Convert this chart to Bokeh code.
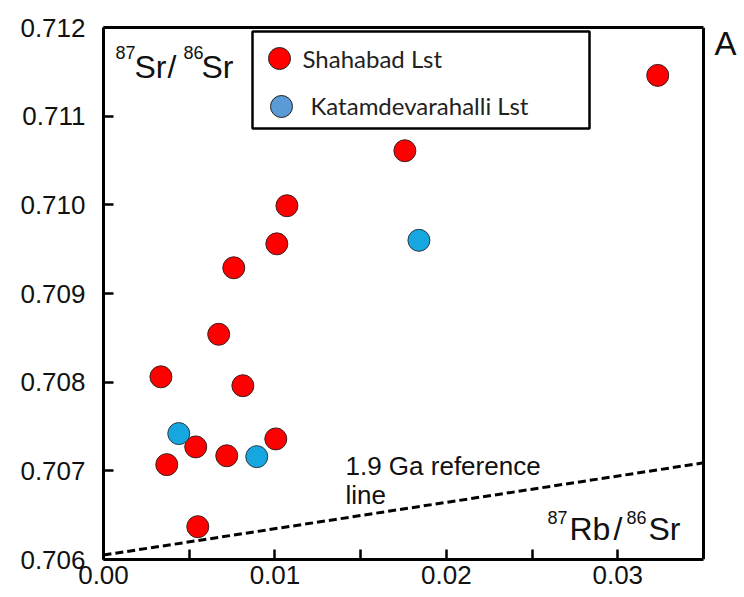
from bokeh.plotting import figure
from bokeh.models import (FixedTicker, PrintfTickFormatter, Label, BoxAnnotation,
                          Range1d, LinearAxis, Span)
from bokeh.embed import file_html
from bokeh.resources import INLINE

# 87Rb/86Sr and 87Sr/86Sr of the Shahabad limestone samples
shahabad_rbsr = [0.03233, 0.01758, 0.01070, 0.01011, 0.00760, 0.00672, 0.00335,
                 0.00813, 0.00538, 0.00369, 0.00719, 0.01005, 0.00550]
shahabad_srsr = [0.71146, 0.71061, 0.70999, 0.70956, 0.70929, 0.70854, 0.70806,
                 0.70796, 0.70727, 0.70707, 0.70717, 0.70736, 0.70637]

# Katamdevarahalli limestone samples
katam_rbsr = [0.01840, 0.00439, 0.00894]
katam_srsr = [0.70960, 0.70742, 0.70716]

# 1.9 Ga reference isochron (end points)
ref_rbsr = [0.0, 0.035]
ref_srsr = [0.70605, 0.70709]

x_ticks = [0.00, 0.01, 0.02, 0.03]
x_minor_ticks = [0.005, 0.015, 0.025]
y_ticks = [0.706, 0.707, 0.708, 0.709, 0.710, 0.711, 0.712]

X_RANGE = (0.0, 0.035)          # boxed plotting area
Y_RANGE = (0.706, 0.712)
BOX_W, BOX_H = 600, 532         # pixel size of the boxed area
MARGIN_R = 41                   # room to the right of the box for the panel letter

# the canvas frame runs past the box so the panel letter is not clipped
x_end = X_RANGE[0] + (X_RANGE[1] - X_RANGE[0]) * (BOX_W + MARGIN_R) / BOX_W

TICK_FONT = "Liberation Sans"
LEGEND_FONT = "Lato"
INK = "#111111"

p = figure(width=744, height=597, output_backend="svg", toolbar_location=None,
           x_range=Range1d(X_RANGE[0], x_end), y_range=Range1d(*Y_RANGE),
           min_border_left=103, min_border_right=0, min_border_top=27, min_border_bottom=38)

p.background_fill_color = "white"
p.border_fill_color = "white"
p.xgrid.visible = False
p.ygrid.visible = False
p.outline_line_color = None

for ax in (p.xaxis[0], p.yaxis[0]):
    ax.axis_line_width = 3
    ax.axis_line_color = "black"
    ax.major_tick_in = 10
    ax.major_tick_out = 0
    ax.major_tick_line_width = 2.5
    ax.minor_tick_in = 10
    ax.minor_tick_out = 0
    ax.minor_tick_line_width = 2.5
    ax.major_label_text_font = TICK_FONT
    ax.major_label_text_font_size = "26px"
    ax.major_label_text_color = INK

p.xaxis[0].bounds = X_RANGE
p.xaxis[0].ticker = FixedTicker(ticks=x_ticks, minor_ticks=x_minor_ticks)
p.xaxis[0].formatter = PrintfTickFormatter(format="%.2f")
p.xaxis[0].major_label_standoff = 6
p.yaxis[0].ticker = FixedTicker(ticks=y_ticks, minor_ticks=[])
p.yaxis[0].formatter = PrintfTickFormatter(format="%.3f")
p.yaxis[0].major_label_standoff = 18

# top and right edges of the box
top_edge = LinearAxis(bounds=X_RANGE, ticker=FixedTicker(ticks=[], minor_ticks=[]),
                      axis_line_width=3, axis_line_color="black",
                      major_tick_in=0, major_tick_out=0, minor_tick_in=0, minor_tick_out=0,
                      major_label_text_font_size="0px")
p.add_layout(top_edge, "above")
p.add_layout(Span(location=X_RANGE[1], dimension="height",
                  line_color="black", line_width=3))

# reference line
p.line(ref_rbsr, ref_srsr, line_color="black", line_width=3, line_dash="8 4")

# samples
p.scatter(shahabad_rbsr, shahabad_srsr, size=22, fill_color="#ff0000",
          line_color="#3a2222", line_width=1)
p.scatter(katam_rbsr, katam_srsr, size=22, fill_color="#17a7e0",
          line_color="#2a3a44", line_width=1)


def box_to_data(sx, sy):
    """Pixel offsets from the box's bottom-left corner to data coordinates."""
    x = X_RANGE[0] + sx / BOX_W * (X_RANGE[1] - X_RANGE[0])
    y = Y_RANGE[0] + sy / BOX_H * (Y_RANGE[1] - Y_RANGE[0])
    return x, y


def add_text(txt, sx, sy, size, font=TICK_FONT, color=INK):
    # sy is the wanted baseline; lift by the renderer's baseline drop
    p.add_layout(Label(x=sx, y=sy + 0.375 * size, x_units="screen", y_units="screen",
                       text=txt, text_font=font, text_font_size=f"{size}px",
                       text_baseline="alphabetic", text_align="left",
                       text_color=color))


# y-axis title inside the box: 87Sr/86Sr
add_text("87", 12, 500, 18)
add_text("Sr", 31, 481, 32)
add_text("/", 64, 481, 32)
add_text("86", 80, 500, 18)
add_text("Sr", 98, 481, 32)

# x-axis title inside the box: 87Rb/86Sr
add_text("87", 444, 35, 18)
add_text("Rb", 466, 19, 32)
add_text("/", 510, 19, 32)
add_text("86", 523, 35, 18)
add_text("Sr", 545, 19, 32)

# reference line caption
add_text("1.9 Ga reference", 242, 84, 26)
add_text("line", 242, 55, 26)

# panel letter
add_text("A", 611, 504, 33)

# legend box
p.add_layout(BoxAnnotation(left=149, right=486, bottom=431, top=528,
                           left_units="screen", right_units="screen",
                           bottom_units="screen", top_units="screen",
                           fill_color="white", fill_alpha=1.0,
                           line_color="black", line_width=2.5, line_alpha=1.0,
                           level="underlay"))

legend_names = ["Shahabad Lst", "Katamdevarahalli Lst"]
legend_colors = ["#ff0000", "#5b9bd5"]
legend_marker_pos = [(176, 501), (178, 453)]
legend_text_pos = [(199, 492), (207, 445)]

mx, my = zip(*[box_to_data(sx, sy) for sx, sy in legend_marker_pos])
p.scatter(list(mx), list(my), size=22, fill_color=legend_colors,
          line_color="#222222", line_width=1)
for name, (tx, ty) in zip(legend_names, legend_text_pos):
    add_text(name, tx, ty, 24, font=LEGEND_FONT, color="#222222")

open("out.html", "w").write(file_html(p, INLINE))
